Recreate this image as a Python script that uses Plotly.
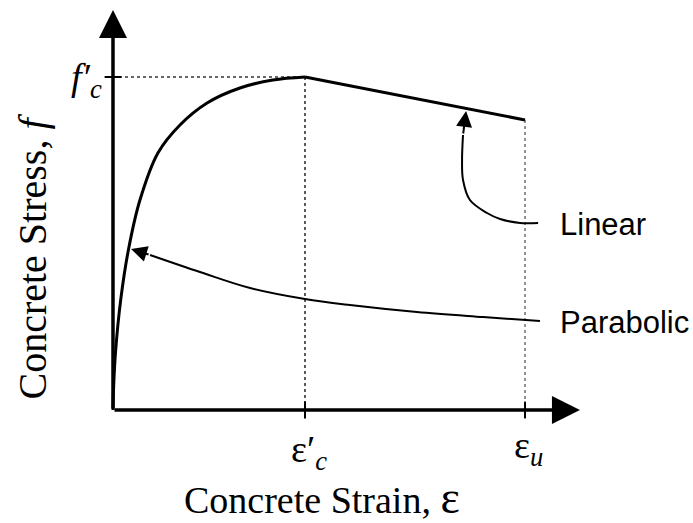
import plotly.graph_objects as go

# Ascending (parabolic) branch of the concrete stress-strain curve,
# normalised by the peak strain eps'_c and the peak stress f'_c
strain_rise = [0.0, 0.004, 0.014, 0.040, 0.080, 0.140, 0.234, 0.349, 0.490, 0.661, 0.833, 1.0]
stress_rise = [0.0, 0.080, 0.180, 0.330, 0.480, 0.630, 0.772, 0.856, 0.922, 0.967, 0.991, 1.0]

# Descending (linear) branch from the peak to the ultimate strain
strain_fall = [1.0, 2.146]
stress_fall = [1.0, 0.871]

peak_strain = 1.0
peak_stress = 1.0
ult_strain = 2.146
ult_stress = 0.871

# Leader curves pointing from the labels to each branch
linear_lead_x = [2.214, 2.120, 2.016, 1.948, 1.859, 1.823, 1.818, 1.823]
linear_lead_y = [0.5616, 0.5616, 0.5736, 0.5916, 0.6306, 0.6907, 0.7508, 0.8258]
parab_lead_x = [2.224, 1.927, 1.583, 1.234, 1.000, 0.714, 0.453, 0.193]
parab_lead_y = [0.2673, 0.2793, 0.2943, 0.3153, 0.3333, 0.3664, 0.4144, 0.4655]
linear_tip = (1.839, 0.898)
parab_tip = (0.094, 0.4835)

x_range = [-0.5885, 3.0208]
y_range = [-0.3393, 1.2312]
x_axis_end = 2.432
y_axis_end = 1.201

SERIF = "Liberation Serif, Times New Roman, serif"
SANS = "Liberation Sans, Arial, sans-serif"

fig = go.Figure()

# Reference (dotted) lines to the peak and to the ultimate strain
fig.add_trace(go.Scatter(x=[0, peak_strain, peak_strain], y=[peak_stress, peak_stress, 0],
                         mode="lines", line=dict(color="#333", width=1.6, dash="dot"),
                         hoverinfo="skip"))
fig.add_trace(go.Scatter(x=[ult_strain, ult_strain], y=[ult_stress, 0],
                         mode="lines", line=dict(color="#666", width=1.4, dash="dot"),
                         hoverinfo="skip"))

# Small ticks on the axes
fig.add_trace(go.Scatter(x=[peak_strain, ult_strain], y=[0, 0], mode="markers",
                         marker=dict(symbol="line-ns", size=12, line=dict(color="black", width=2)),
                         hoverinfo="skip"))
fig.add_trace(go.Scatter(x=[0], y=[peak_stress], mode="markers",
                         marker=dict(symbol="line-ew", size=12, line=dict(color="black", width=2)),
                         hoverinfo="skip"))

# Stress-strain curve
fig.add_trace(go.Scatter(x=strain_rise, y=stress_rise, mode="lines",
                         line=dict(color="black", width=3, shape="spline", smoothing=1.0)))
fig.add_trace(go.Scatter(x=strain_fall, y=stress_fall, mode="lines",
                         line=dict(color="black", width=3)))

# Leader curves
fig.add_trace(go.Scatter(x=linear_lead_x, y=linear_lead_y, mode="lines",
                         line=dict(color="black", width=2, shape="spline"), hoverinfo="skip"))
fig.add_trace(go.Scatter(x=parab_lead_x, y=parab_lead_y, mode="lines",
                         line=dict(color="black", width=2, shape="spline"), hoverinfo="skip"))

annotations = []

# Axes drawn as arrows from the origin
for (tx, ty) in [(x_axis_end, 0), (0, y_axis_end)]:
    annotations.append(dict(x=tx, y=ty, ax=0, ay=0, xref="x", yref="y", axref="x", ayref="y",
                            text="", showarrow=True, arrowhead=2, arrowsize=1.6,
                            arrowwidth=3.5, arrowcolor="black", standoff=0))

# Arrowheads at the ends of the leader curves
for tip, tail in [(linear_tip, (linear_lead_x[-1], linear_lead_y[-1])),
                  (parab_tip, (parab_lead_x[-1], parab_lead_y[-1]))]:
    annotations.append(dict(x=tip[0], y=tip[1], ax=tail[0], ay=tail[1], xref="x", yref="y",
                            axref="x", ayref="y", text="", showarrow=True, arrowhead=2,
                            arrowsize=1.6, arrowwidth=2, arrowcolor="black", standoff=0))

# Axis labels and symbols
annotations += [
    dict(x=-0.045, y=peak_stress - 0.01, xref="x", yref="y", text="<i>f′<sub>c</sub></i>",
         showarrow=False, xanchor="right", yanchor="middle",
         font=dict(family=SERIF, size=38, color="black")),
    dict(x=peak_strain + 0.02, y=-0.125, xref="x", yref="y", text="ε′<sub><i>c</i></sub>",
         showarrow=False, xanchor="center", yanchor="middle",
         font=dict(family=SERIF, size=38, color="black")),
    dict(x=ult_strain + 0.02, y=-0.115, xref="x", yref="y", text="ε<sub><i>u</i></sub>",
         showarrow=False, xanchor="center", yanchor="middle",
         font=dict(family=SERIF, size=38, color="black")),
    dict(x=1.09, y=-0.262, xref="x", yref="y",
         text="Concrete Strain, <span style=\"font-size:46px\">ε</span>",
         showarrow=False, xanchor="center", yanchor="middle",
         font=dict(family=SERIF, size=38, color="black")),
    dict(x=-0.42, y=0.462, xref="x", yref="y", text="Concrete Stress, <i>f</i>",
         showarrow=False, xanchor="center", yanchor="middle", textangle=-90,
         font=dict(family=SERIF, size=40, color="black")),
    dict(x=2.318, y=0.556, xref="x", yref="y", text="Linear",
         showarrow=False, xanchor="left", yanchor="middle",
         font=dict(family=SANS, size=31, color="black")),
    dict(x=2.318, y=0.264, xref="x", yref="y", text="Parabolic",
         showarrow=False, xanchor="left", yanchor="middle",
         font=dict(family=SANS, size=31, color="black")),
]

fig.update_layout(
    width=693, height=523,
    margin=dict(l=0, r=0, t=0, b=0, pad=0),
    paper_bgcolor="white", plot_bgcolor="white",
    showlegend=False,
    xaxis=dict(range=x_range, visible=False, fixedrange=True),
    yaxis=dict(range=y_range, visible=False, fixedrange=True),
    annotations=annotations,
)

fig.write_html("out.html")
